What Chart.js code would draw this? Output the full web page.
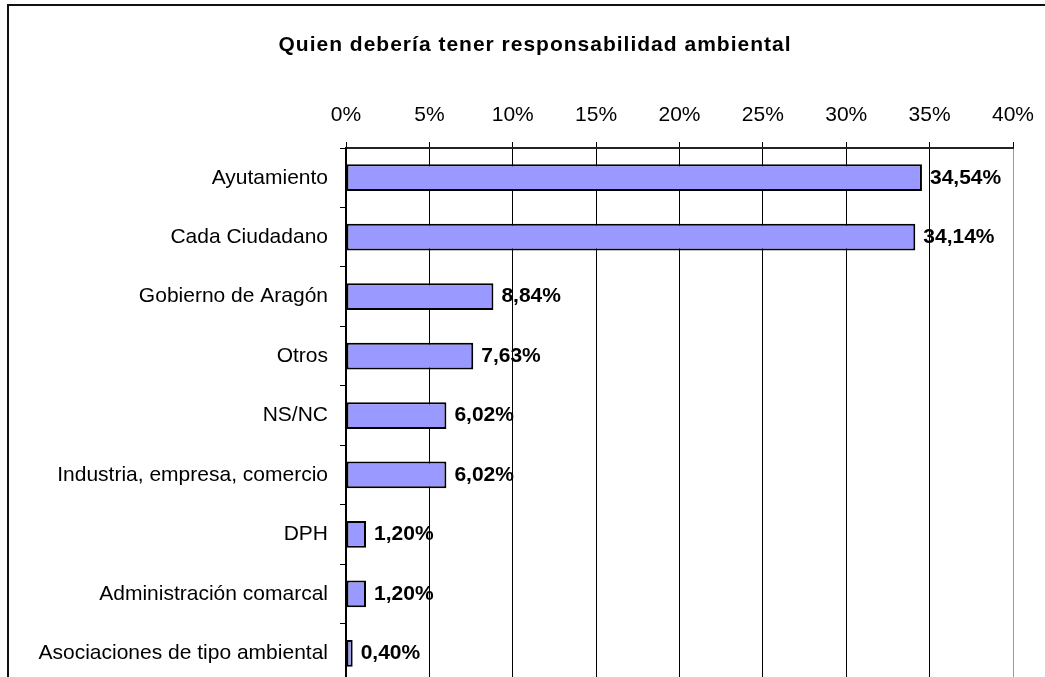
<!DOCTYPE html>
<html>
<head>
<meta charset="utf-8">
<script src="https://cdn.jsdelivr.net/npm/chart.js@4"></script>
<style>
  html, body { margin: 0; padding: 0; overflow: hidden; background: #fff; }
  #frame { position: absolute; left: 7px; top: 4px; width: 1100px; height: 800px;
           border-left: 2px solid #111; border-top: 2px solid #111; }
  #chart { position: absolute; left: 0; top: 0; }
</style>
</head>
<body>
<div id="frame"></div>
<canvas id="chart" width="1045" height="700"></canvas>
<script>
  var chartTitle = 'Quien debería tener responsabilidad ambiental';
  var categories = ['Ayutamiento', 'Cada Ciudadano', 'Gobierno de Aragón', 'Otros', 'NS/NC',
    'Industria, empresa, comercio', 'DPH', 'Administración comarcal', 'Asociaciones de tipo ambiental'];
  var percentages = [34.54, 34.14, 8.84, 7.63, 6.02, 6.02, 1.20, 1.20, 0.40];
  var tickValues = [0, 5, 10, 15, 20, 25, 30, 35, 40];

  var fontFamily = '"Liberation Sans", Arial, sans-serif';

  function formatPct(v) {
    return v.toFixed(2).replace('.', ',') + '%';
  }

  // title drawn by hand so the spacing looks like the original
  var titlePlugin = {
    id: 'oldTitle',
    afterDraw: function (chart) {
      var ctx = chart.ctx;
      ctx.save();
      ctx.font = 'bold 21px ' + fontFamily;
      ctx.letterSpacing = '1px';
      ctx.fillStyle = '#000';
      ctx.textAlign = 'center';
      ctx.textBaseline = 'middle';
      ctx.fillText(chartTitle, 535, 45);
      ctx.restore();
    }
  };

  // value labels to the right of each bar
  var valueLabels = {
    id: 'valueLabels',
    afterDatasetsDraw: function (chart) {
      var ctx = chart.ctx;
      var meta = chart.getDatasetMeta(0);
      ctx.save();
      ctx.font = 'bold 21px ' + fontFamily;
      ctx.fillStyle = '#000';
      ctx.textAlign = 'left';
      ctx.textBaseline = 'middle';
      meta.data.forEach(function (bar, i) {
        ctx.fillText(formatPct(percentages[i]), bar.x + 8, bar.y);
      });
      ctx.restore();
    }
  };

  var chartContext = document.getElementById('chart');
  var respChart = new Chart(chartContext, {
    type: 'bar',
    data: {
      labels: categories,
      datasets: [{
        data: percentages,
        backgroundColor: '#9999ff',
        borderColor: '#000',
        borderWidth: 2,
        borderSkipped: false,
        categoryPercentage: 1,
        barPercentage: 0.45
      }]
    },
    options: {
      indexAxis: 'y',
      responsive: false,
      animation: false,
      layout: { padding: { left: 0, right: 32, top: 0, bottom: 17 } },
      plugins: {
        legend: { display: false },
        tooltip: { enabled: false }
      },
      scales: {
        x: {
          position: 'top',
          min: 0,
          max: 40,
          afterFit: function (scale) {
            scale.height = 148;
            scale.paddingLeft = 0;
            scale.paddingRight = 0;
          },
          afterBuildTicks: function (scale) {
            scale.ticks = tickValues.map(function (v) { return { value: v }; });
          },
          ticks: {
            padding: 14,
            color: '#000',
            font: { family: fontFamily, size: 21 },
            callback: function (v) { return v + '%'; }
          },
          grid: {
            color: function (c) { return c.tick && c.tick.value === 40 ? '#999' : '#000'; },
            tickColor: '#000',
            lineWidth: 1,
            tickLength: 6
          },
          border: { color: '#222', width: 2 }
        },
        y: {
          afterFit: function (scale) {
            scale.width = 346;
            scale.paddingTop = 0;
            scale.paddingBottom = 0;
          },
          ticks: {
            padding: 12,
            color: '#000',
            font: { family: fontFamily, size: 21 }
          },
          grid: {
            offset: true,
            drawOnChartArea: false,
            color: '#000',
            tickLength: 6
          },
          border: { color: '#000', width: 1.5 }
        }
      }
    },
    plugins: [valueLabels, titlePlugin]
  });
</script>
</body>
</html>
